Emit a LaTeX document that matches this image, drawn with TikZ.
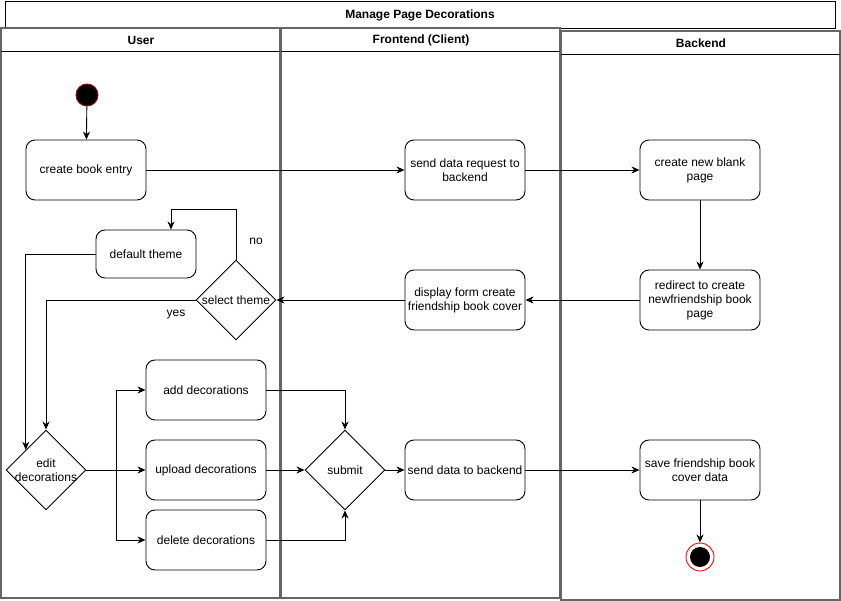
\documentclass[tikz,border=0pt]{standalone}
\usepackage{fontspec}
\setmainfont{Liberation Sans}
\usetikzlibrary{shapes.geometric,arrows.meta}
\tikzset{
  act/.style={draw, rounded corners=9pt, minimum width=120pt, minimum height=60pt, align=center, inner sep=1pt},
  dec/.style={draw, diamond, minimum width=80pt, minimum height=80pt, inner sep=0pt},
  lane/.style={draw=black!60, line width=1.4pt},
  flow/.style={-{Stealth[length=8pt,width=7pt,inset=2.5pt]}},
  every label/.style={align=center}
}

\begin{document}
\begin{tikzpicture}[x=1pt,y=-1pt,font=\fontsize{12}{14}\selectfont,line width=0.9pt]
	  \useasboundingbox (0,0) rectangle (841,601);
	  \draw (5,1) rectangle (835,28);
	  \node[font=\fontsize{12}{14}\selectfont\bfseries] (title) at (420,15) {Manage Page Decorations};
	  \foreach \x/\y/\h/\name [count=\i] in {1/28/570/User,281/28/570/{Frontend (Client)},561/31/569/Backend}{
		\draw[lane] (\x,\y) rectangle +(279,\h);
		\draw (\x,\y+23) -- +(279,0);
		\node[font=\fontsize{12}{14}\selectfont\bfseries] (head\i) at (\x+140,\y+12) {\name};
	  }

	  \node[circle, fill=black, draw=red!60!black, minimum size=22pt] (start) at (87,95) {};
	  \node[act] (entry) at (86,170) {create book entry};
	  \node[act] (sendreq) at (465,170) {send data request to\\backend};
	  \node[act] (newpage) at (700,170) {create new blank\\page};
	  \node[act] (redirect) at (700,300) {redirect to create\\newfriendship book\\page};
	  \node[act] (showform) at (465,300) {display form create\\friendship book cover};
	  \node[dec, label=center:select theme] (theme) at (236,300) {};
	  \node[act, minimum width=100pt, minimum height=48pt] (default) at (146,254) {default theme};
	  \node (no) at (256,241) {no};
	  \node (yes) at (176,315) {yes};
	  \node[dec, label=center:edit\\decorations] (edit) at (46,470) {};
	  \node[act] (add) at (206,390) {add decorations};
	  \node[act] (upload) at (206,470) {upload decorations};
	  \node[act] (delete) at (206,540) {delete decorations};
	  \node[dec, label=center:submit] (submit) at (345,470) {};
	  \node[act] (senddata) at (465,470) {send data to backend};
	  \node[act] (save) at (700,470) {save friendship book\\cover data};
	  \node[circle, draw=red, fill=white, minimum size=28pt] (stop) at (700,557) {};
	  \fill (stop) circle (10pt);

	  \draw[flow] (start) -- (entry);
	  \draw[flow] (entry) -- (sendreq);
	  \draw[flow] (sendreq) -- (newpage);
	  \draw[flow] (newpage) -- (redirect);
	  \draw[flow] (redirect) -- (showform);
	  \draw[flow] (showform) -- (theme.east);
	  \draw[flow] (theme.north) -- ++(0,-50) -| ([xshift=25pt]default.north);
	  \draw[flow] (default.west) -| (edit.north west);
	  \draw[flow] (theme.west) -| (edit.north);
	  \draw[flow] (edit.east) -- (upload.west);
	  \draw[flow] (edit.east) -- ++(30,0) |- (add.west);
	  \draw[flow] (edit.east) -- ++(30,0) |- (delete.west);
	  \draw[flow] (add.east) -| (submit.north);
	  \draw[flow] (upload) -- (submit);
	  \draw[flow] (delete.east) -| (submit.south);
	  \draw[flow] (submit) -- (senddata);
	  \draw[flow] (senddata) -- (save);
	  \draw[flow] (save) -- (stop);
	\end{tikzpicture}
\end{document}
